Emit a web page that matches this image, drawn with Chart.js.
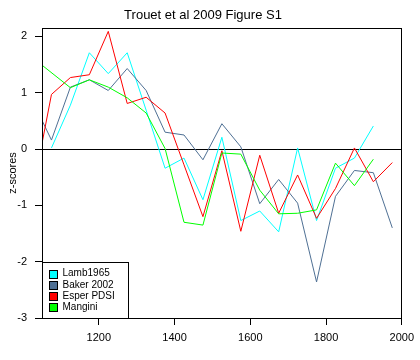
<!DOCTYPE html>
<html>
<head>
<meta charset="utf-8">
<script src="https://cdn.jsdelivr.net/npm/chart.js@4.4.0/dist/chart.umd.min.js"></script>
<style>
  body { margin: 0; background: #fff; }
  #wrap { width: 420px; height: 360px; }
</style>
</head>
<body>
<div id="wrap"><canvas id="fig" width="420" height="360"></canvas></div>
<script>
// values (50-year bins)
const lambYears = [1075,1125,1175,1225,1275,1325,1375,1425,1475,1525,1575,1625,1675,1725,1775,1825,1875,1925];
const lambValues = [0.02,0.78,1.71,1.34,1.71,0.69,-0.34,-0.16,-0.90,0.21,-1.27,-1.10,-1.47,0.02,-1.27,-0.34,-0.16,0.41];

const bakerYears = [1050,1075,1125,1175,1225,1275,1325,1375,1425,1475,1525,1575,1625,1675,1725,1775,1825,1875,1925,1975];
const bakerValues = [0.51,0.16,1.10,1.23,1.04,1.43,1.04,0.30,0.25,-0.19,0.45,0.04,-0.97,-0.54,-0.96,-2.36,-0.84,-0.38,-0.42,-1.40];

const esperYears = [1050,1075,1125,1175,1225,1275,1325,1375,1425,1475,1525,1575,1625,1675,1725,1775,1825,1875,1925,1975];
const esperValues = [0.10,0.97,1.27,1.32,2.09,0.81,0.92,0.64,-0.28,-1.20,-0.03,-1.46,-0.11,-1.14,-0.46,-1.23,-0.70,0.02,-0.58,-0.24];

const manginiYears = [1050,1125,1175,1225,1275,1325,1375,1425,1475,1525,1575,1625,1675,1725,1775,1825,1875,1925];
const manginiValues = [1.49,1.09,1.23,1.10,0.91,0.64,0.01,-1.30,-1.35,-0.07,-0.09,-0.73,-1.15,-1.14,-1.08,-0.25,-0.65,-0.18];

const seriesNames = ["Lamb1965", "Baker 2002", "Esper PDSI", "Mangini"];
const seriesColors = ["#00ffff", "#4f7094", "#ff0000", "#00ff00"];

const xTicks = [1200, 1400, 1600, 1800, 2000];
const yTicks = [-3, -2, -1, 0, 1, 2];

const FONT = "'Liberation Sans', Arial, sans-serif";

function pts(xs, ys) {
    return xs.map((x, i) => ({ x: x, y: ys[i] }));
}

const allData = [
    pts(lambYears, lambValues),
    pts(bakerYears, bakerValues),
    pts(esperYears, esperValues),
    pts(manginiYears, manginiValues)
];

// box round the plot + zero line
const framePlugin = {
    id: 'frame',
    beforeDatasetsDraw(chart) {
        const { ctx, chartArea: a, scales } = chart;
        const y0 = Math.round(scales.y.getPixelForValue(0)) + 0.5;
        ctx.save();
        ctx.strokeStyle = '#000';
        ctx.lineWidth = 1;
        ctx.beginPath();
        ctx.moveTo(a.left, y0);
        ctx.lineTo(a.right, y0);
        ctx.stroke();
        ctx.restore();
    },
    afterDatasetsDraw(chart) {
        const { ctx, chartArea: a } = chart;
        ctx.save();
        ctx.strokeStyle = '#000';
        ctx.lineWidth = 1;
        ctx.strokeRect(Math.round(a.left) + 0.5, Math.round(a.top) + 0.5,
                       Math.round(a.right - a.left) - 1, Math.round(a.bottom - a.top));
        ctx.restore();
    }
};

// legend box in the lower left corner
const boxLegend = {
    id: 'boxLegend',
    afterDraw(chart) {
        const { ctx, chartArea: a } = chart;
        const left = Math.round(a.left) + 0.5;
        const w = 86, h = 56;
        const top = Math.round(a.bottom) - h + 0.5;
        ctx.save();
        ctx.fillStyle = '#fff';
        ctx.fillRect(left, top, w, h);
        ctx.strokeStyle = '#000';
        ctx.lineWidth = 1;
        ctx.strokeRect(left, top, w, h);
        ctx.font = "10px " + FONT;
        ctx.textBaseline = 'middle';
        seriesNames.forEach((name, i) => {
            const cy = top + 11 + i * 11.3;
            ctx.fillStyle = seriesColors[i];
            ctx.fillRect(left + 7, Math.round(cy - 4), 8, 8);
            ctx.strokeStyle = '#000';
            ctx.strokeRect(left + 7, Math.round(cy - 4) + 0.5, 8, 8);
            ctx.fillStyle = '#000';
            ctx.fillText(name, left + 20, cy);
        });
        ctx.restore();
    }
};

new Chart(document.getElementById('fig'), {
    type: 'line',
    data: {
        datasets: allData.map((d, i) => ({
            label: seriesNames[i],
            data: d,
            borderColor: seriesColors[i],
            backgroundColor: seriesColors[i],
            borderWidth: 1,
            pointRadius: 0,
            tension: 0,
            fill: false,
            order: 4 - i
        }))
    },
    options: {
        responsive: false,
        animation: false,
        layout: { padding: { left: 0, right: 14, top: 0, bottom: 0 } },
        plugins: {
            legend: { display: false },
            tooltip: { enabled: false },
            title: {
                display: true,
                text: 'Trouet et al 2009 Figure S1',
                color: '#000',
                font: { family: FONT, size: 13, weight: 'normal' },
                padding: { top: 8, bottom: 4.4 }
            }
        },
        scales: {
            x: {
                type: 'linear',
                min: 1050,
                max: 2000,
                afterBuildTicks(s) { s.ticks = xTicks.map(v => ({ value: v })); },
                afterFit(s) { s.height = 42; },
                border: { display: false },
                grid: { drawOnChartArea: false, drawTicks: true, tickLength: 7, color: '#000' },
                ticks: {
                    color: '#000',
                    padding: 6,
                    maxRotation: 0,
                    autoSkip: false,
                    font: { family: FONT, size: 11 },
                    callback: v => String(v)
                }
            },
            y: {
                min: -3,
                max: 2.15,
                afterBuildTicks(s) { s.ticks = yTicks.map(v => ({ value: v })); },
                afterFit(s) { s.width = 42; },
                border: { display: false },
                grid: { drawOnChartArea: false, drawTicks: true, tickLength: 7, color: '#000' },
                ticks: {
                    color: '#000',
                    padding: 8,
                    autoSkip: false,
                    font: { family: FONT, size: 11 },
                    callback: v => String(v)
                },
                title: {
                    display: true,
                    text: 'z-scores',
                    color: '#000',
                    padding: { top: 6, bottom: 0 },
                    font: { family: FONT, size: 11 }
                }
            }
        }
    },
    plugins: [framePlugin, boxLegend]
});
</script>
</body>
</html>
